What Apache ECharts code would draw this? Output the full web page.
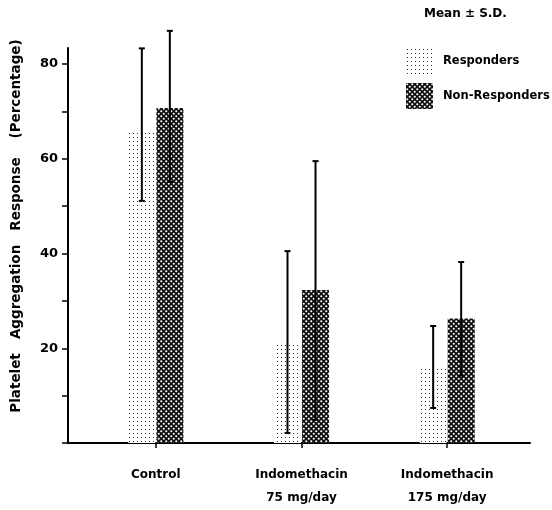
<!DOCTYPE html>
<html>
<head>
<meta charset="utf-8">
<script src="https://cdn.jsdelivr.net/npm/echarts@6/dist/echarts.min.js"></script>
<style>
  html, body { margin: 0; padding: 0; background: #fff; }
  #chart { width: 552px; height: 510px; }
</style>
</head>
<body>
<div id="chart"></div>
<script>
// values (percent, mean and the ends of the S.D. bars)
const categories = ['Control', 'Indomethacin\n75 mg/day', 'Indomethacin\n175 mg/day'];
const seriesNames = ['Responders', 'Non-Responders'];
const respMean = [65.8, 20.9, 15.8];
const respLow = [51.1, 2.1, 7.4];
const respHigh = [83.3, 40.5, 24.7];
const nonRespMean = [70.7, 32.3, 26.3];
const nonRespLow = [55.1, 4.9, 14.2];
const nonRespHigh = [87.0, 59.5, 38.2];
const yLabelStep = 20;

const FONT = 'DejaVu Sans';

// little canvas tiles used as fills, like the screen tones in the print
function dotTile() {
  const c = document.createElement('canvas');
  c.width = 4; c.height = 4;
  const ctx = c.getContext('2d');
  ctx.fillStyle = '#fff';
  ctx.fillRect(0, 0, 4, 4);
  ctx.fillStyle = '#333';
  ctx.fillRect(1, 1, 1, 1);
  return c;
}

function hatchTile() {
  const c = document.createElement('canvas');
  c.width = 5; c.height = 5;
  const ctx = c.getContext('2d');
  ctx.fillStyle = '#111';
  ctx.fillRect(0, 0, 5, 5);
  ctx.fillStyle = '#fff';
  ctx.beginPath();
  ctx.arc(1.25, 1.25, 1.05, 0, Math.PI * 2);
  ctx.arc(3.75, 3.75, 1.05, 0, Math.PI * 2);
  ctx.fill();
  return c;
}

const BAR_W = 27;

function errorBars(low, high, side) {
  return {
    type: 'custom',
    xAxisIndex: 1,
    yAxisIndex: 1,
    silent: true,
    z: 10,
    data: low.map((l, i) => [i, l, high[i]]),
    renderItem: (params, api) => {
      const lo = api.coord([api.value(0), api.value(1)]);
      const hi = api.coord([api.value(0), api.value(2)]);
      const x = lo[0] + side * (BAR_W / 2 + 0.5);
      const style = { stroke: '#000', lineWidth: 2 };
      return {
        type: 'group',
        children: [
          { type: 'line', shape: { x1: x, y1: hi[1], x2: x, y2: lo[1] }, style },
          { type: 'line', shape: { x1: x - 3, y1: hi[1], x2: x + 3, y2: hi[1] }, style },
          { type: 'line', shape: { x1: x - 3, y1: lo[1], x2: x + 3, y2: lo[1] }, style },
        ],
      };
    },
  };
}

const chart = echarts.init(document.getElementById('chart'), null, { renderer: 'canvas' });

const black = '#000';

chart.setOption({
  animation: false,
  backgroundColor: '#fff',
  title: {
    text: 'Mean \u00b1 S.D.',
    left: 424,
    top: 8,
    padding: 0,
    textStyle: { fontFamily: FONT, fontSize: 12, fontWeight: 'bold', color: black },
  },
  legend: {
    data: seriesNames,
    orient: 'vertical',
    left: 406,
    top: 48,
    padding: 0,
    itemWidth: 27,
    itemHeight: 26,
    itemGap: 9,
    icon: 'rect',
    textStyle: {
      fontFamily: FONT, fontSize: 11.5, fontWeight: 'bold', color: black,
      padding: [0, 0, 0, 5],
    },
  },
  grid: [
    // outer frame: only carries the long axis lines
    { left: 68, right: 22, top: 48, bottom: 67, outerBoundsMode: 'none' },
    // inner grid for the bars, ticks and labels
    { left: 83, right: 32, top: 64, bottom: 67, outerBoundsMode: 'none' },
  ],
  xAxis: [
    {
      gridIndex: 0, type: 'value', min: 0, max: 1,
      axisLine: { show: true, lineStyle: { color: black, width: 2 } },
      axisTick: { show: false }, axisLabel: { show: false }, splitLine: { show: false },
    },
    {
      gridIndex: 1, type: 'category', data: categories,
      axisLine: { show: false },
      axisTick: { show: true, alignWithLabel: true, length: 5, lineStyle: { color: black, width: 1.5 } },
      axisLabel: {
        margin: 20, lineHeight: 23, color: black,
        fontFamily: FONT, fontSize: 12, fontWeight: 'bold',
      },
      splitLine: { show: false },
    },
  ],
  yAxis: [
    {
      gridIndex: 0, type: 'value', min: 0, max: 83.38,
      axisLine: { show: true, lineStyle: { color: black, width: 2 } },
      axisTick: { show: false }, axisLabel: { show: false }, splitLine: { show: false },
    },
    {
      gridIndex: 1, type: 'value', min: 0, max: 80, interval: 10, offset: 15,
      name: 'Platelet   Aggregation   Response    (Percentage)',
      nameLocation: 'middle',
      nameGap: 45,
      nameTextStyle: {
        fontFamily: FONT, fontSize: 13.5, fontWeight: 'bold', color: black,
        padding: [0, 0, 0, 55],
      },
      axisLine: { show: false },
      axisTick: { show: true, length: 6, lineStyle: { color: black, width: 1.5 } },
      axisLabel: {
        margin: 10, color: black, fontFamily: FONT, fontSize: 13, fontWeight: 'bold',
        formatter: (v) => (v > 0 && v % yLabelStep === 0 ? String(v) : ''),
      },
      splitLine: { show: false },
    },
  ],
  series: [
    {
      name: seriesNames[0], type: 'bar', xAxisIndex: 1, yAxisIndex: 1,
      data: respMean, barWidth: BAR_W, barGap: '4%',
      itemStyle: { color: { image: dotTile(), repeat: 'repeat' } },
    },
    {
      name: seriesNames[1], type: 'bar', xAxisIndex: 1, yAxisIndex: 1,
      data: nonRespMean, barWidth: BAR_W, barGap: '4%',
      itemStyle: { color: { image: hatchTile(), repeat: 'repeat' } },
    },
    errorBars(respLow, respHigh, -1),
    errorBars(nonRespLow, nonRespHigh, 1),
  ],
});

window.addEventListener('resize', () => chart.resize());
</script>
</body>
</html>
